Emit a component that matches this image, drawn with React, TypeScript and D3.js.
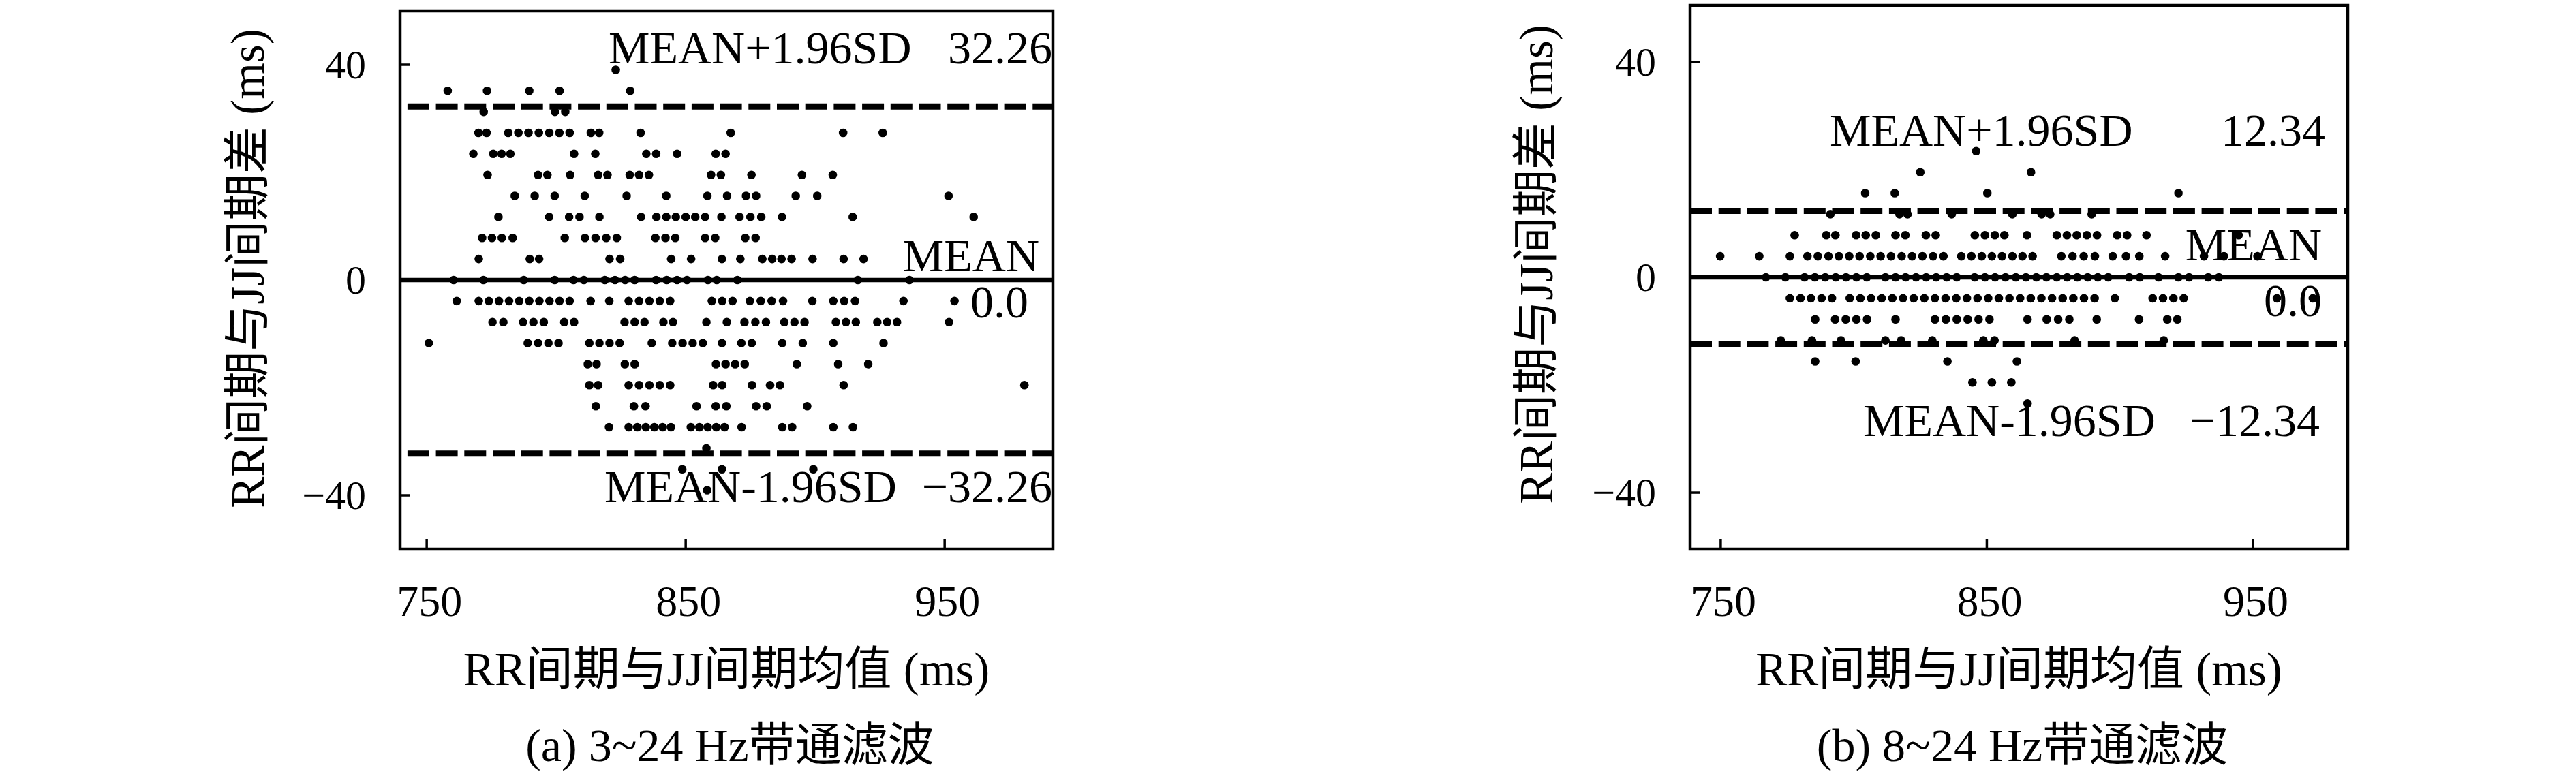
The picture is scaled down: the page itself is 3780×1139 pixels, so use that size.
import React from 'react';
import * as d3 from 'd3';

// ---------------- DATA ----------------
// (a) 3~24 Hz: difference levels (ms) and the mean values (ms) of the points on each level
const DIFF_LEVELS_A = [39.06, 35.16, 31.25, 27.34, 23.44, 19.53, 15.63, 11.72, 7.81, 3.91, 0, -3.91, -7.81, -11.72, -15.63, -19.53, -23.44, -27.34, -31.25, -35.16, -39.06];
const MEANS_A = [
  [823.0],
  [758.1, 773.3, 789.6, 801.3, 828.6],
  [772.0, 799.5, 803.5],
  [770.0, 773.1, 781.5, 785.4, 789.3, 793.3, 797.3, 801.2, 805.2, 813.4, 816.6, 832.6, 867.4, 910.8, 926.1],
  [768.0, 775.7, 778.9, 782.3, 806.9, 815.1, 834.8, 838.6, 846.7, 861.6, 865.4],
  [773.5, 793.0, 796.6, 805.4, 816.2, 819.8, 828.4, 832.0, 835.8, 859.8, 863.6, 875.4, 894.9, 906.8],
  [784.0, 791.7, 799.4, 811.0, 827.2, 842.5, 858.4, 866.0, 873.3, 877.2, 892.5, 900.8, 951.5],
  [777.7, 797.3, 805.0, 809.0, 816.7, 832.8, 838.7, 842.5, 846.2, 850.0, 853.7, 857.5, 863.8, 870.8, 875.0, 879.2, 887.2, 914.5, 961.2],
  [771.4, 775.2, 779.0, 783.2, 803.3, 811.1, 815.2, 819.3, 823.4, 838.3, 842.2, 846.0, 857.5, 861.4, 873.0, 877.0],
  [770.1, 789.8, 793.4, 820.6, 824.7, 844.4, 852.1, 864.0, 871.1, 879.6, 883.4, 887.0, 890.9, 899.0, 911.0, 918.7],
  [760.4, 771.9, 787.5, 799.4, 806.7, 810.7, 818.8, 822.7, 826.6, 830.3, 838.6, 842.7, 846.7, 850.5, 858.6, 862.0, 870.0, 916.5, 936.4],
  [761.6, 770.1, 774.0, 777.9, 781.8, 785.7, 789.6, 793.5, 797.4, 801.3, 805.2, 813.3, 820.5, 828.0, 832.0, 836.0, 840.0, 844.0, 860.1, 864.1, 868.1, 874.8, 879.0, 883.2, 887.6, 898.9, 907.0, 911.2, 915.4, 934.1, 953.8],
  [775.4, 779.6, 787.2, 791.2, 795.2, 803.1, 806.9, 826.4, 830.3, 834.1, 841.4, 845.1, 858.0, 865.9, 872.7, 876.9, 881.0, 888.1, 892.0, 895.9, 908.0, 911.9, 915.7, 924.0, 927.8, 931.6, 951.7],
  [750.8, 789.0, 793.0, 797.0, 800.9, 812.8, 816.7, 820.6, 824.5, 836.9, 844.8, 848.8, 852.7, 856.6, 864.0, 871.5, 875.5, 887.3, 895.2, 907.0, 926.4],
  [812.2, 815.6, 826.5, 830.3, 861.7, 865.4, 869.1, 872.8, 892.9, 908.9, 920.5],
  [812.8, 816.2, 828.0, 832.0, 836.0, 840.0, 844.0, 860.6, 864.1, 875.6, 882.6, 886.4, 911.0, 980.8],
  [815.3, 830.0, 834.5, 854.2, 861.6, 865.7, 877.2, 881.3, 896.9],
  [820.4, 828.0, 831.3, 834.6, 837.9, 841.1, 844.3, 852.0, 855.3, 858.5, 861.8, 865.0, 871.6, 887.3, 891.1, 907.0, 914.6],
  [858.0],
  [848.7, 864.0, 899.3],
  [858.3],
];

// (b) 8~24 Hz
const DIFF_LEVELS_B = [23.44, 19.53, 15.63, 11.72, 7.81, 3.91, 0, -3.91, -7.81, -11.72, -15.63, -19.53, -23.44];
const MEANS_B = [
  [846.0],
  [825.0, 866.6],
  [804.3, 815.4, 850.2, 922.0],
  [791.2, 817.2, 820.2, 836.8, 859.6, 870.6, 873.8, 889.4],
  [777.8, 789.7, 793.1, 800.9, 804.5, 808.3, 815.7, 819.4, 827.1, 830.8, 845.5, 849.3, 853.0, 856.6, 865.1, 876.3, 880.1, 883.8, 887.6, 891.4, 899.0, 902.7, 910.0, 944.6],
  [749.8, 764.5, 776.0, 782.6, 786.5, 790.5, 794.4, 798.3, 802.2, 806.2, 810.1, 814.0, 818.0, 821.9, 825.8, 829.8, 833.7, 840.4, 844.2, 848.1, 851.9, 855.7, 859.6, 863.4, 867.2, 878.0, 882.2, 886.4, 890.6, 897.3, 902.3, 907.3, 917.0, 931.6, 939.1, 951.7],
  [767.0, 774.3, 781.5, 785.4, 789.3, 793.2, 797.1, 801.0, 804.9, 811.9, 815.7, 819.5, 823.4, 827.2, 831.0, 834.9, 838.7, 845.4, 849.3, 853.1, 857.0, 860.9, 864.7, 868.6, 872.4, 876.3, 880.2, 884.0, 887.9, 891.7, 895.6, 903.5, 907.5, 914.5, 922.0, 926.0, 933.2, 937.2],
  [776.0, 780.0, 783.9, 787.9, 791.8, 798.5, 802.5, 806.5, 810.5, 814.5, 818.5, 822.5, 826.5, 830.5, 834.5, 838.5, 842.5, 846.5, 850.5, 854.5, 858.5, 862.5, 866.5, 870.5, 874.5, 878.5, 882.5, 886.5, 890.5, 898.1, 912.3, 916.2, 920.1, 924.0, 959.0, 972.5],
  [785.5, 793.0, 797.0, 801.0, 805.0, 815.7, 830.5, 834.6, 838.7, 842.8, 846.9, 851.0, 865.3, 872.5, 876.8, 881.0, 891.3, 907.2, 917.8, 921.6],
  [772.6, 784.3, 795.2, 811.9, 817.8, 829.5, 848.7, 852.9, 883.0, 916.5],
  [785.5, 800.7, 835.2, 861.3],
  [844.6, 851.9, 859.2],
  [865.3],
];

const LIMITS = [32.26, 12.34];
const MEAN_VALUE = [0.0, 0.0];
const X_TICKS = [750, 850, 950];
const Y_TICKS = [40, 0, -40];
const CAPTIONS = ['(a) 3~24 Hz带通滤波', '(b) 8~24 Hz带通滤波'];
const X_TITLE = 'RR间期与JJ间期均值 (ms)';
const Y_TITLE = 'RR间期与JJ间期差 (ms)';

// ---------------- LAYOUT ----------------
const FONT = '"Liberation Serif", "Noto Sans CJK SC", serif';

type PanelCfg = {
  left: number; right: number; top: number; bottom: number;
  xDomain: [number, number]; yDomain: [number, number];
  dashOffset: number;
  yTitleX: number; yTitleY: number;
  upLabel: { x: number; y: number; valX: number };
  meanLabel: { x: number; y: number; valX: number; valY: number };
  loLabel: { x: number; y: number; valX: number };
};

const PANELS: PanelCfg[] = [
  {
    left: 587, right: 1545, top: 16, bottom: 806,
    xDomain: [739.7, 991.8], yDomain: [-50, 50], dashOffset: 30.8,
    yTitleX: 387, yTitleY: 394,
    upLabel: { x: 893, y: 93, valX: 1544 },
    meanLabel: { x: 1525, y: 398, valX: 1509, valY: 466 },
    loLabel: { x: 887, y: 737, valX: 1544 },
  },
  {
    left: 2480, right: 3445, top: 8, bottom: 806,
    xDomain: [738.5, 985.6], yDomain: [-50.5, 50.5], dashOffset: 0,
    yTitleX: 2278, yTitleY: 388,
    upLabel: { x: 2685, y: 214, valX: 3412 },
    meanLabel: { x: 3407, y: 382, valX: 3407, valY: 464 },
    loLabel: { x: 2734, y: 640, valX: 3404 },
  },
];

const fmt = (v: number, d: number) => (v < 0 ? '\u2212' : '') + Math.abs(v).toFixed(d);

function Panel({ cfg, levels, means, limit, mean, caption }: {
  cfg: PanelCfg; levels: number[]; means: number[][]; limit: number; mean: number; caption: string;
}) {
  const x = d3.scaleLinear().domain(cfg.xDomain).range([cfg.left, cfg.right]);
  const y = d3.scaleLinear().domain(cfg.yDomain).range([cfg.bottom, cfg.top]);
  const pts: [number, number][] = [];
  levels.forEach((lv, i) => means[i].forEach((m) => pts.push([m, lv])));
  const cx = (cfg.left + cfg.right) / 2;
  const annF = 68;
  return (
    <g>
      {/* points */}
      {pts.map((p, i) => (
        <circle key={i} cx={x(p[0])} cy={y(p[1])} r={6.3} fill="#000" />
      ))}
      {/* limit lines */}
      {[limit, -limit].map((l, i) => (
        <line key={i} x1={cfg.left} x2={cfg.right} y1={y(l)} y2={y(l)} stroke="#000" strokeWidth={9}
          strokeDasharray="32 9.7" strokeDashoffset={cfg.dashOffset} />
      ))}
      <line x1={cfg.left} x2={cfg.right} y1={y(mean)} y2={y(mean)} stroke="#000" strokeWidth={6.5} />
      {/* annotations */}
      <g fontFamily={FONT} fontSize={annF} fill="#000">
        <text x={cfg.upLabel.x} y={cfg.upLabel.y}>MEAN+1.96SD</text>
        <text x={cfg.upLabel.valX} y={cfg.upLabel.y} textAnchor="end">{fmt(limit, 2)}</text>
        <text x={cfg.meanLabel.x} y={cfg.meanLabel.y} textAnchor="end">MEAN</text>
        <text x={cfg.meanLabel.valX} y={cfg.meanLabel.valY} textAnchor="end">{fmt(mean, 1)}</text>
        <text x={cfg.loLabel.x} y={cfg.loLabel.y}>MEAN-1.96SD</text>
        <text x={cfg.loLabel.valX} y={cfg.loLabel.y} textAnchor="end">{fmt(-limit, 2)}</text>
      </g>
      {/* frame */}
      <rect x={cfg.left} y={cfg.top} width={cfg.right - cfg.left} height={cfg.bottom - cfg.top}
        fill="none" stroke="#000" strokeWidth={4.5} />
      {/* ticks */}
      {X_TICKS.map((t) => (
        <g key={'x' + t}>
          <line x1={x(t)} x2={x(t)} y1={cfg.bottom} y2={cfg.bottom - 15} stroke="#000" strokeWidth={3.5} />
          <text x={x(t) + 4} y={904} textAnchor="middle" fontFamily={FONT} fontSize={64}>{t}</text>
        </g>
      ))}
      {Y_TICKS.map((t) => (
        <g key={'y' + t}>
          <line x1={cfg.left} x2={cfg.left + 15} y1={y(t)} y2={y(t)} stroke="#000" strokeWidth={3.5} />
          <text x={cfg.left - 50} y={y(t) + 20} textAnchor="end" fontFamily={FONT} fontSize={60}>
            {t < 0 ? '\u2212' + Math.abs(t) : String(t)}
          </text>
        </g>
      ))}
      {/* axis titles */}
      <text x={cx} y={1006} textAnchor="middle" fontFamily={FONT} fontSize={69}>{X_TITLE}</text>
      <text transform={`translate(${cfg.yTitleX},${cfg.yTitleY}) rotate(-90)`} textAnchor="middle"
        fontFamily={FONT} fontSize={69}>{Y_TITLE}</text>
      <text x={cx + 5} y={1117} textAnchor="middle" fontFamily={FONT} fontSize={68}>{caption}</text>
    </g>
  );
}

export default function App() {
  return (
    <svg width={3780} height={1139} viewBox="0 0 3780 1139"
      style={{ position: 'absolute', left: 0, top: 0, display: 'block', background: '#fff' }}>
      <rect x={0} y={0} width={3780} height={1139} fill="#fff" />
      <Panel cfg={PANELS[0]} levels={DIFF_LEVELS_A} means={MEANS_A} limit={LIMITS[0]} mean={MEAN_VALUE[0]} caption={CAPTIONS[0]} />
      <Panel cfg={PANELS[1]} levels={DIFF_LEVELS_B} means={MEANS_B} limit={LIMITS[1]} mean={MEAN_VALUE[1]} caption={CAPTIONS[1]} />
    </svg>
  );
}
